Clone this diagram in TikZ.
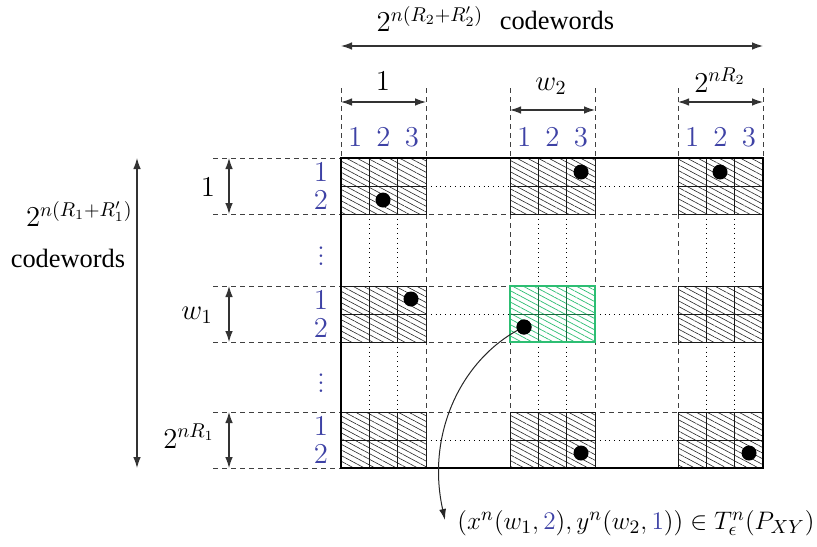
\documentclass[tikz,border=0pt]{standalone}
\usepackage{fontspec}
\newfontfamily\cwfont{Liberation Serif}
\usetikzlibrary{patterns.meta,arrows.meta}
\definecolor{lblue}{RGB}{62,66,165}
\definecolor{hgreen}{RGB}{45,190,115}
\begin{document}
\begin{tikzpicture}[x=0.5pt,y=-0.5pt, font=\fontsize{13.6}{16}\selectfont,
  dsh/.style={black!75, dash pattern=on 2.5pt off 2pt, line width=0.45pt},
  dtt/.style={black, dash pattern=on 0.4pt off 2pt, line width=0.45pt},
  hatchblk/.style={pattern={Lines[angle=-28,distance=2.5pt,line width=0.3pt]}, pattern color=black!85},
  hatchgrn/.style={pattern={Lines[angle=-28,distance=2.5pt,line width=0.35pt]}, pattern color=hgreen},
  dimarr/.style={{Latex[length=5.5pt,width=3.8pt]}-{Latex[length=5.5pt,width=3.8pt]}, line width=0.55pt, black!80},
  dotc/.style={circle, fill=black, inner sep=0pt, minimum size=7.5pt},
  blbl/.style={text=lblue},
  cw/.style={font=\cwfont\fontsize{13.2}{15}\selectfont},
  gline/.style={black!90, line width=0.5pt}]
\path[use as bounding box] (0,0) rectangle (817,546);

% dashed guide lines
\foreach \y in {214,286,342,412} \draw[dsh] (213,\y) -- (763,\y);
\foreach \y in {158,468} \draw[dsh] (213,\y) -- (341,\y);
\foreach \x in {426,510,595,678} \draw[dsh] (\x,88) -- (\x,468);
\foreach \x in {341,763} \draw[dsh] (\x,88) -- (\x,158);

% dotted guide lines
\foreach \y in {186,314,440} {
  \draw[dtt] (426,\y) -- (510,\y);
  \draw[dtt] (595,\y) -- (678,\y);
}
\foreach \x in {369.3,397.7,538.3,566.7,706.3,734.7} {
  \draw[dtt] (\x,214) -- (\x,286);
  \draw[dtt] (\x,342) -- (\x,412);
}

% hatched blocks
\foreach \bx in {341,510,678} {
  \foreach \by in {158,286,412} {
    \path[hatchblk] (\bx,\by) rectangle ++(85,56);
    \draw[gline] (\bx,\by) rectangle ++(85,56);
    \draw[gline] (\bx,\by+28) -- ++(85,0);
    \draw[gline] (\bx+28.33,\by) -- ++(0,56);
    \draw[gline] (\bx+56.67,\by) -- ++(0,56);
  }
}
% green block
\fill[white] (510,286) rectangle (595,342);
\path[hatchgrn] (510,286) rectangle (595,342);
\draw[hgreen!55!black, line width=0.5pt] (510,314) -- (595,314) (538.33,286) -- (538.33,342) (566.67,286) -- (566.67,342);
\draw[hgreen, line width=0.6pt] (510,286) rectangle (595,342);

% outer frame
\draw[line width=1.4pt] (341,158) rectangle (763,468);

% top dimensions
\coordinate (tl) at (341,46);
\coordinate (tr) at (763,46);
\draw[dimarr] (tl) -- (tr);
\node (toptxt) at (430,19) {$2^{n(R_2+R_2')}$};
\node[cw] (topcw) at (557,20) {codewords};
\coordinate (a1l) at (341,102); \coordinate (a1r) at (426,102);
\draw[dimarr] (a1l) -- (a1r);
\node (a1t) at (383,81) {$1$};
\coordinate (a2l) at (510,110); \coordinate (a2r) at (595,110);
\draw[dimarr] (a2l) -- (a2r);
\node (a2t) at (551,86) {$w_2$};
\coordinate (a3l) at (678,102); \coordinate (a3r) at (763,102);
\draw[dimarr] (a3l) -- (a3r);
\node (a3t) at (720,80) {$2^{nR_2}$};

% column labels
\foreach \bx/\b in {341/1,510/2,678/3} {
  \node[blbl] (c\b a) at (\bx+14.2,137) {$1$};
  \node[blbl] (c\b b) at (\bx+42.5,137) {$2$};
  \node[blbl] (c\b c) at (\bx+70.8,137) {$3$};
}

% left dimensions
\coordinate (lt) at (137,158);
\coordinate (lb) at (137,468);
\draw[dimarr] (lt) -- (lb);
\node[anchor=east, inner sep=0pt] (lefttxt) at (133,214) {$2^{n(R_1+R_1')}$};
\node[cw] (leftcw) at (68,258) {codewords};
\coordinate (b1t) at (229,158); \coordinate (b1b) at (229,214);
\draw[dimarr] (b1t) -- (b1b);
\node (b1x) at (208,187) {$1$};
\coordinate (b2t) at (229,286); \coordinate (b2b) at (229,342);
\draw[dimarr] (b2t) -- (b2b);
\node (b2x) at (197,315) {$w_1$};
\coordinate (b3t) at (229,412); \coordinate (b3b) at (229,468);
\draw[dimarr] (b3t) -- (b3b);
\node (b3x) at (189,436) {$2^{nR_1}$};

% row labels
\foreach \by/\b in {158/1,286/2,412/3} {
  \node[blbl] (r\b a) at (321,\by+14) {$1$};
  \node[blbl] (r\b b) at (321,\by+42) {$2$};
}
\node[blbl] (vd1) at (321,250) {$\vdots$};
\node[blbl] (vd2) at (321,377) {$\vdots$};

% codeword dots
\node[dotc] (d1) at (383,200) {};
\node[dotc] (d2) at (581,172) {};
\node[dotc] (d3) at (720,172) {};
\node[dotc] (d4) at (411,299) {};
\node[dotc] (dg) at (524,327) {};
\node[dotc] (d6) at (581,453) {};
\node[dotc] (d7) at (749,453) {};

% result label and arrow
\node[anchor=east, inner sep=0pt, scale=1.055, font=\fontsize{13}{15}\selectfont] (res) at (815,523) {$(x^n(w_1,{\color{lblue}2}),y^n(w_2,{\color{lblue}1}))\in T_\epsilon^n(P_{XY})$};
\coordinate (rend) at (445,520);
\draw[-{Latex[length=5.5pt,width=3.5pt]}, line width=0.5pt, black!85] (dg.center) .. controls (465,355) and (425,430) .. (rend);
\node[dotc] at (dg) {};
\end{tikzpicture}
\end{document}
